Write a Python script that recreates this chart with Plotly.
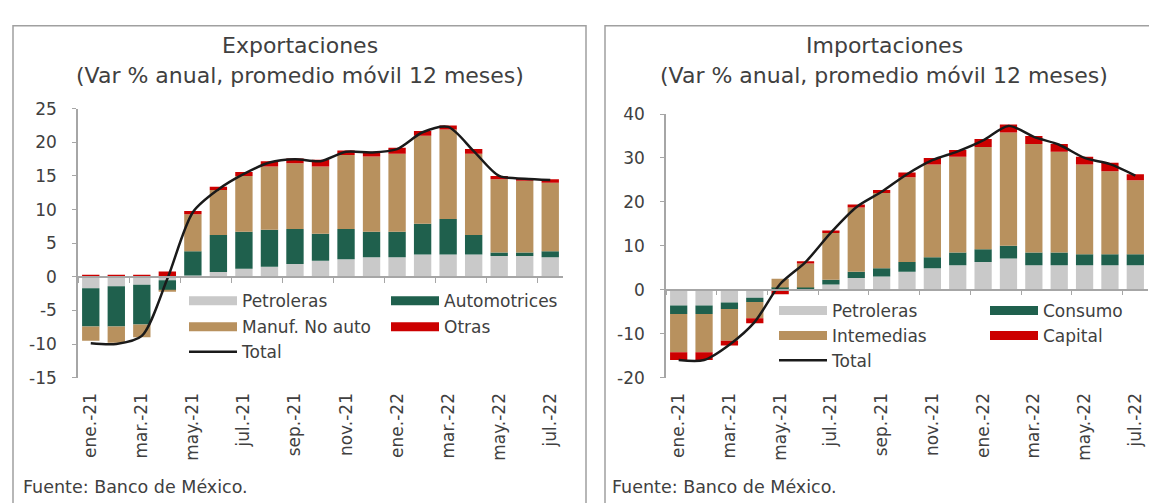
import plotly.graph_objects as go

# ---------------- data ----------------
months = ["ene.-21", "feb.-21", "mar.-21", "abr.-21", "may.-21", "jun.-21", "jul.-21",
          "ago.-21", "sep.-21", "oct.-21", "nov.-21", "dic.-21", "ene.-22", "feb.-22",
          "mar.-22", "abr.-22", "may.-22", "jun.-22", "jul.-22"]

# Exportaciones
exp_petroleras = [-1.7, -1.4, -1.2, -0.5, 0.2, 0.7, 1.2, 1.5, 1.9, 2.4, 2.6, 2.9, 2.9, 3.3, 3.3, 3.3, 3.1, 3.1, 2.9]
exp_automotrices = [-5.7, -6.0, -5.9, -1.5, 3.6, 5.5, 5.5, 5.5, 5.2, 4.0, 4.5, 3.8, 3.8, 4.6, 5.3, 2.9, 0.5, 0.5, 0.9]
exp_manuf = [-2.1, -2.4, -1.9, -0.2, 5.5, 6.7, 8.3, 9.4, 9.8, 10.0, 11.0, 11.2, 11.6, 13.1, 13.3, 12.1, 10.9, 10.7, 10.2]
exp_otras = [0.3, 0.3, 0.3, 0.8, 0.5, 0.5, 0.6, 0.8, 0.7, 1.0, 0.7, 0.7, 0.9, 0.7, 0.6, 0.7, 0.5, 0.4, 0.5]
exp_total = [-9.9, -10.0, -8.8, -0.3, 9.6, 13.0, 15.3, 17.0, 17.5, 17.2, 18.6, 18.5, 19.0, 21.5, 22.3, 18.7, 15.0, 14.6, 14.4]

# Importaciones
imp_petroleras = [-3.6, -3.6, -2.9, -1.8, 0.3, 0.2, 1.2, 2.7, 3.0, 4.1, 4.9, 5.6, 6.3, 7.1, 5.6, 5.6, 5.6, 5.6, 5.6]
imp_consumo = [-1.9, -1.9, -1.5, -1.0, 0.2, 0.3, 1.1, 1.4, 1.9, 2.2, 2.5, 2.9, 2.9, 2.9, 2.9, 2.9, 2.5, 2.5, 2.5]
imp_intermedias = [-8.7, -8.7, -7.2, -3.7, 2.0, 5.5, 10.6, 14.6, 17.1, 19.3, 21.1, 21.8, 23.3, 25.8, 24.7, 22.9, 20.4, 18.9, 16.8]
imp_capital = [-1.8, -1.8, -1.1, -1.1, -1.0, 0.5, 0.6, 0.7, 0.7, 1.1, 1.5, 1.5, 1.8, 1.8, 1.8, 1.8, 1.8, 1.9, 1.4]
imp_total = [-16.0, -16.0, -12.5, -7.3, 1.3, 6.3, 13.0, 18.8, 22.3, 26.3, 29.5, 31.5, 34.0, 37.3, 34.8, 33.0, 30.0, 28.6, 26.0]

exp_names = ["Petroleras", "Automotrices", "Manuf. No auto", "Otras"]
imp_names = ["Petroleras", "Consumo", "Intemedias", "Capital"]

exp_yticks = [-15, -10, -5, 0, 5, 10, 15, 20, 25]
imp_yticks = [-20, -10, 0, 10, 20, 30, 40]

# ---------------- style ----------------
W, H = 1157, 503
FONT = "DejaVu Sans"
TXT = "#404040"
AXC = "#A6A6A6"
C_GRAY = "#C9C9C9"
C_GREEN = "#1F604D"
C_TAN = "#B8915E"
C_RED = "#CC0000"
C_LINE = "#1A1A1A"
comp_colors = [C_GRAY, C_GREEN, C_TAN, C_RED]


def px(x):
    return x / W


def py(y):
    return 1 - y / H


fig = go.Figure()

exp_series = [exp_petroleras, exp_automotrices, exp_manuf, exp_otras]
imp_series = [imp_petroleras, imp_consumo, imp_intermedias, imp_capital]

for name, vals, col in zip(exp_names, exp_series, comp_colors):
    fig.add_trace(go.Bar(x=months, y=vals, name=name, marker_color=col, marker_line_width=0,
                         xaxis="x", yaxis="y", showlegend=False))
fig.add_trace(go.Scatter(x=months, y=exp_total, mode="lines", name="Total",
                         line=dict(color=C_LINE, width=2.5, shape="spline", smoothing=0.8),
                         xaxis="x", yaxis="y", showlegend=True, legend="legend5"))

for name, vals, col in zip(imp_names, imp_series, comp_colors):
    fig.add_trace(go.Bar(x=months, y=vals, name=name, marker_color=col, marker_line_width=0,
                         xaxis="x2", yaxis="y2", showlegend=False))
fig.add_trace(go.Scatter(x=months, y=imp_total, mode="lines", name="Total",
                         line=dict(color=C_LINE, width=2.5, shape="spline", smoothing=0.8),
                         xaxis="x2", yaxis="y2", showlegend=True, legend="legend10"))

# invisible traces to hold the zero-line axes
fig.add_trace(go.Scatter(x=months, y=[None] * len(months), xaxis="x3", yaxis="y",
                         showlegend=False, hoverinfo="skip"))
fig.add_trace(go.Scatter(x=months, y=[None] * len(months), xaxis="x4", yaxis="y2",
                         showlegend=False, hoverinfo="skip"))

# legend-only swatches
exp_leg = ["legend", "legend2", "legend3", "legend4"]
imp_leg = ["legend6", "legend7", "legend8", "legend9"]
for name, col, lg in zip(exp_names, comp_colors, exp_leg):
    fig.add_trace(go.Scatter(x=[None], y=[None], mode="lines", name=name,
                             line=dict(color=col, width=9), xaxis="x", yaxis="y",
                             showlegend=True, legend=lg))
for name, col, lg in zip(imp_names, comp_colors, imp_leg):
    fig.add_trace(go.Scatter(x=[None], y=[None], mode="lines", name=name,
                             line=dict(color=col, width=9), xaxis="x2", yaxis="y2",
                             showlegend=True, legend=lg))

# ---------------- layout ----------------
y1_dom = [py(374.5), py(94.5)]
y1_rng = [-15, 25]
y2_dom = [py(374.5), py(100)]
y2_rng = [-20, 40]


def zero_pos(dom, rng):
    return dom[0] + (0 - rng[0]) / (rng[1] - rng[0]) * (dom[1] - dom[0])


xlab = dict(type="category", range=[-0.5, 18.5], tickmode="linear", tick0=0, dtick=2,
            tickangle=-90, showline=False, ticks="", showgrid=False, zeroline=False,
            tickfont=dict(size=17, color=TXT, family=FONT), ticklabelstandoff=11)
yax = dict(showline=True, linecolor=AXC, linewidth=1.5, ticks="outside", ticklen=4,
           tickcolor=AXC, showgrid=False, zeroline=False,
           tickfont=dict(size=17, color=TXT, family=FONT), ticklabelstandoff=12)
xzero = dict(type="category", range=[-0.5, 18.5], tickmode="linear", tick0=0, dtick=2,
             showline=True, linecolor=AXC, linewidth=1.5, ticks="outside", ticklen=5,
             tickcolor=AXC, tickson="boundaries", showticklabels=False, showgrid=False,
             zeroline=False, anchor="free")

legend_pos = {
    "legend": (176, 295), "legend2": (378, 295), "legend3": (176, 322), "legend4": (378, 322),
    "legend5": (176, 348),
    "legend6": (766, 305), "legend7": (977, 305), "legend8": (766, 331), "legend9": (977, 331),
    "legend10": (766, 357),
}
legends = {}
for k, (lx, ly) in legend_pos.items():
    legends[k] = dict(x=px(lx), y=py(ly), xanchor="left", yanchor="middle",
                      bgcolor="rgba(0,0,0,0)", borderwidth=0, itemwidth=48,
                      font=dict(size=17, color=TXT, family=FONT))

fig.update_layout(
    width=W, height=H,
    margin=dict(l=0, r=0, t=0, b=0),
    paper_bgcolor="white", plot_bgcolor="white",
    barmode="relative", bargap=0.32,
    font=dict(family=FONT, color=TXT),
    xaxis=dict(domain=[px(70), px(555)], anchor="y", **xlab),
    yaxis=dict(domain=y1_dom, range=y1_rng, tickmode="array", tickvals=exp_yticks,
               ticktext=[str(v) for v in exp_yticks], anchor="x", **yax),
    xaxis2=dict(domain=[px(658), px(1140)], anchor="y2", **xlab),
    yaxis2=dict(domain=y2_dom, range=y2_rng, tickmode="array", tickvals=imp_yticks,
                ticktext=[str(v) for v in imp_yticks], anchor="x2", **yax),
    xaxis3=dict(overlaying="x", position=zero_pos(y1_dom, y1_rng), **xzero),
    xaxis4=dict(overlaying="x2", position=zero_pos(y2_dom, y2_rng), **xzero),
    showlegend=True,
    **legends,
)

# titles and sources
annots = [
    ("Exportaciones", 291.5, 29, 22, "center"),
    ("(Var % anual, promedio móvil 12 meses)", 291.5, 60, 22, "center"),
    ("Importaciones", 876, 29, 22, "center"),
    ("(Var % anual, promedio móvil 12 meses)", 876, 60, 22, "center"),
    ("Fuente: Banco de México.", 13, 488, 17.5, "left"),
    ("Fuente: Banco de México.", 602, 488, 17.5, "left"),
]
for text, ax_, ay_, fs, xa in annots:
    fig.add_annotation(text=text, x=px(ax_), y=py(ay_), xref="paper", yref="paper",
                       xanchor=xa, yanchor="middle", showarrow=False,
                       font=dict(size=fs, color=TXT, family=FONT))

# panel frames
for x0, x1 in [(5, 578), (597, 1155)]:
    fig.add_shape(type="rect", xref="paper", yref="paper", x0=px(x0), x1=px(x1),
                  y0=py(530), y1=py(8), line=dict(color="#A0A0A0", width=1.5),
                  fillcolor="rgba(0,0,0,0)", layer="below")

fig.write_html("out.html")
